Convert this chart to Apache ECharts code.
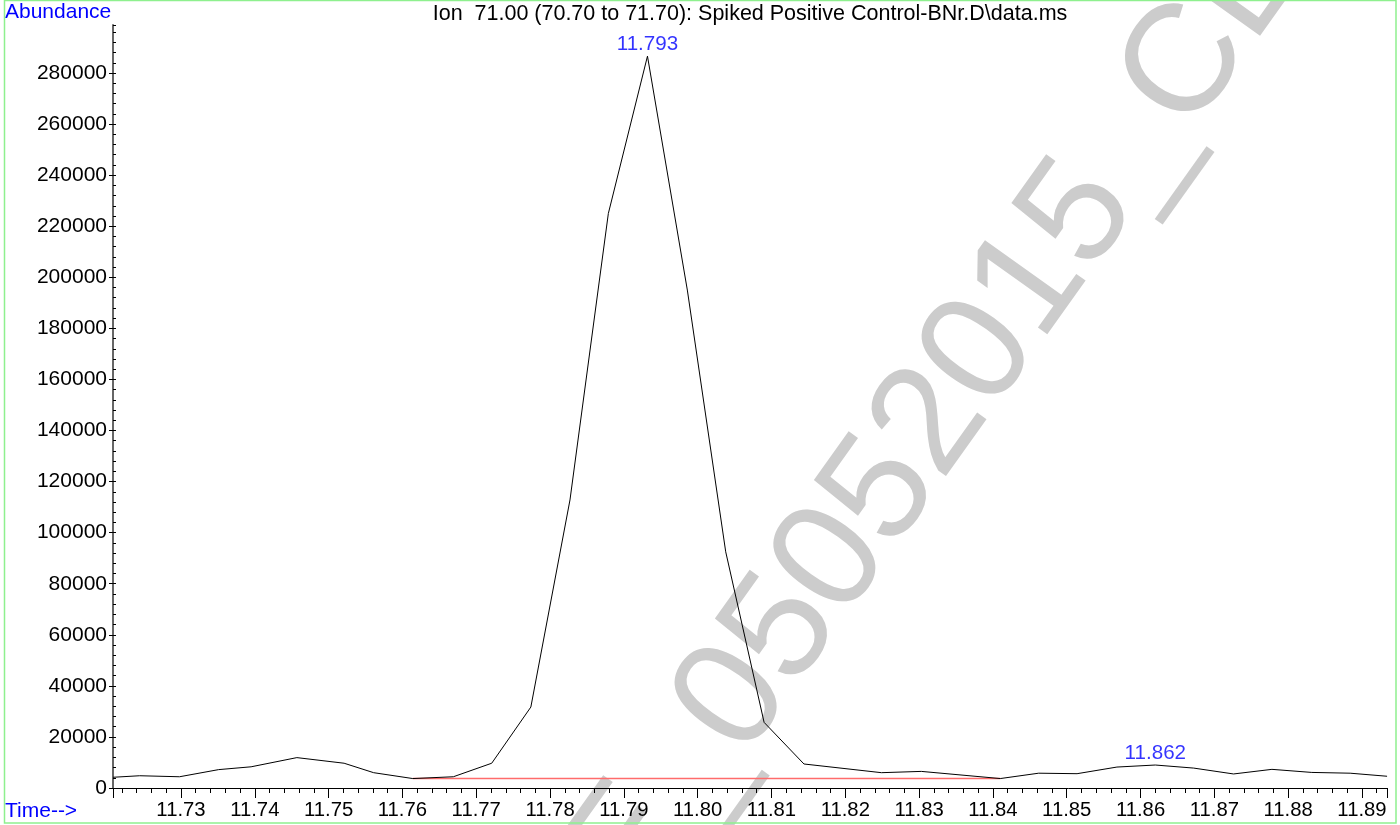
<!DOCTYPE html>
<html><head><meta charset="utf-8">
<script src="https://cdn.jsdelivr.net/npm/echarts@6/dist/echarts.min.js"></script>
<style>html,body{margin:0;padding:0;background:#fff}#c{width:1400px;height:825px}</style>
</head><body><div id="c"></div>
<script>
const FONT = "'Liberation Sans', Arial, Helvetica, sans-serif";
const titleText = "Ion  71.00 (70.70 to 71.70): Spiked Positive Control-BNr.D\\data.ms";
const yAxisName = "Abundance";
const xAxisName = "Time-->";

// chromatogram (time in min, abundance)
const times = [11.7208, 11.7244, 11.7298, 11.7351, 11.7395, 11.7457, 11.7521, 11.7561, 11.7614, 11.7669,
  11.7721, 11.7774, 11.7827, 11.7879, 11.7932, 11.7986, 11.8038, 11.8090, 11.8144, 11.8249,
  11.8303, 11.8410, 11.8462, 11.8514, 11.8568, 11.8620, 11.8672, 11.8726, 11.8778, 11.8832,
  11.8884, 11.8934];
const abundance = [4200, 4800, 4400, 7200, 8300, 11900, 9700, 6000, 3700, 4400,
  9700, 31700, 112800, 225000, 286600, 195000, 92500, 25700, 9400, 6000,
  6500, 3700, 5800, 5600, 8200, 9000, 7800, 5500, 7300, 6100,
  5800, 4600];

// integration baseline
const baselineTimes = [11.7614, 11.8410];
const baselineValues = [3700, 3700];

// peak annotations
const peakTimes = [11.7932, 11.8620];
const peakValues = [286600, 9000];
const peakLabels = ["11.793", "11.862"];

// watermark
const watermarkMain = "05052015_CL";
const watermarkLead = "E_";

const xMin = 11.72079, xMax = 11.89339;
const yMin = 0, yMax = 298800, yStep = 20000;

const chart = echarts.init(document.getElementById('c'), null, {renderer: 'canvas'});
const rot = 54.5 * Math.PI / 180;

chart.setOption({
  animation: false,
  backgroundColor: '#fff',
  grid: {left: 113, right: 13, top: 25, bottom: 37, containLabel: false},
  xAxis: {
    type: 'value', min: xMin, max: xMax, splitNumber: 17,
    axisLine: {show: true, onZero: false, lineStyle: {color: '#000', width: 1}},
    axisTick: {show: true, length: 10, lineStyle: {color: '#000', width: 1}},
    minorTick: {show: true, splitNumber: 5, length: 5, lineStyle: {color: '#000', width: 1}},
    splitLine: {show: false},
    axisLabel: {show: true, fontSize: 20.3, fontFamily: FONT, color: '#000', margin: 12,
      showMinLabel: false, showMaxLabel: false, formatter: v => v.toFixed(2)}
  },
  yAxis: [{
    type: 'value', min: yMin, max: yMax, interval: yStep, position: 'left',
    axisLine: {show: true, lineStyle: {color: '#666', width: 2}},
    axisTick: {show: true, length: 4, lineStyle: {color: '#000', width: 1}},
    splitLine: {show: false},
    axisLabel: {show: true, fontSize: 21, fontFamily: FONT, color: '#000', margin: 6,
      showMaxLabel: false, formatter: v => String(v)}
  }, {
    type: 'value', min: yMin, max: yMax, interval: yStep, position: 'left',
    axisLine: {show: false},
    axisTick: {show: true, inside: true, length: 3, lineStyle: {color: '#000', width: 1}},
    minorTick: {show: true, splitNumber: 5, length: 3, lineStyle: {color: '#000', width: 1}},
    splitLine: {show: false},
    axisLabel: {show: false}
  }],
  series: [{
    type: 'line', name: 'baseline', yAxisIndex: 0, z: 2,
    data: baselineTimes.map((t, i) => [t, baselineValues[i]]),
    showSymbol: false, symbol: 'none',
    lineStyle: {color: '#ff6b6b', width: 1.5}
  }, {
    type: 'line', name: 'TIC', yAxisIndex: 0, z: 3,
    data: times.map((t, i) => [t, abundance[i]]),
    showSymbol: false, symbol: 'none',
    lineStyle: {color: '#000', width: 1}
  }, {
    type: 'scatter', name: 'peaks', yAxisIndex: 0, z: 4,
    symbolSize: 1, itemStyle: {color: 'rgba(0,0,0,0)'},
    data: peakTimes.map((t, i) => ({value: [t, peakValues[i]],
      label: {formatter: peakLabels[i]}})),
    label: {show: true, position: 'top', distance: 1, color: '#0000ff',
      fontSize: 20.6, fontFamily: FONT}
  }],
  graphic: [
    {type: 'text', z: -10, x: 709.6, y: 734.8, rotation: rot, silent: true,
      style: {text: watermarkMain, fill: '#cccccc', font: '153px ' + FONT,
        align: 'left', textAlign: 'left', verticalAlign: 'middle', textVerticalAlign: 'middle'}},
    {type: 'text', z: -10, x: 709.6, y: 734.8, rotation: rot, silent: true,
      style: {text: watermarkLead, fill: '#cccccc', font: '153px ' + FONT,
        align: 'right', textAlign: 'right', verticalAlign: 'middle', textVerticalAlign: 'middle'}},
    {type: 'rect', z: 100, silent: true,
      shape: {x: 4.5, y: 0.5, width: 1391.5, height: 822.5},
      style: {fill: 'none', stroke: '#8ef08e', lineWidth: 1.5}},
    {type: 'text', x: 5, y: 12, z: 10,
      style: {text: yAxisName, fill: '#0000ff', font: '21px ' + FONT,
        align: 'left', textAlign: 'left', verticalAlign: 'middle', textVerticalAlign: 'middle'}},
    {type: 'text', x: 5, y: 811, z: 10,
      style: {text: xAxisName, fill: '#0000ff', font: '21px ' + FONT,
        align: 'left', textAlign: 'left', verticalAlign: 'middle', textVerticalAlign: 'middle'}},
    {type: 'text', x: 750, y: 14, z: 10,
      style: {text: titleText, fill: '#000', font: '21.5px ' + FONT,
        align: 'center', textAlign: 'center', verticalAlign: 'middle', textVerticalAlign: 'middle'}}
  ]
});
</script></body></html>
